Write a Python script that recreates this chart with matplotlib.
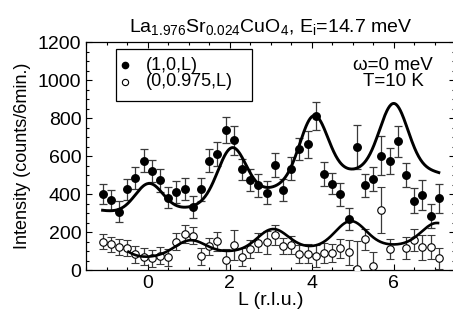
import numpy as np
import matplotlib
matplotlib.use("Agg")
import matplotlib.pyplot as plt
from matplotlib.patches import Rectangle

plt.rcParams['font.family'] = ['Liberation Sans', 'DejaVu Sans']
plt.rcParams['mathtext.fontset'] = 'custom'
plt.rcParams['mathtext.rm'] = 'Liberation Sans'
plt.rcParams['mathtext.it'] = 'Liberation Sans:italic'

# ---- data: (1,0,L) filled circles ----
L_filled = [-1.1, -0.9, -0.7, -0.5, -0.3, -0.1, 0.1, 0.3, 0.5, 0.7, 0.9, 1.1, 1.3, 1.5,
            1.7, 1.9, 2.1, 2.3, 2.5, 2.7, 2.9, 3.1, 3.3, 3.5, 3.7, 3.9, 4.1, 4.3, 4.5,
            4.7, 4.9, 5.1, 5.3, 5.5, 5.7, 5.9, 6.1, 6.3, 6.5, 6.7, 6.9, 7.1]
I_filled = [400, 368, 307, 425, 484, 575, 521, 472, 381, 412, 426, 333, 425, 575,
            612, 737, 682, 530, 474, 447, 407, 551, 421, 533, 638, 661, 810, 507, 454,
            398, 270, 647, 447, 481, 603, 575, 677, 500, 365, 396, 286, 377]
E_filled = [52, 54, 56, 56, 56, 60, 60, 60, 56, 58, 58, 58, 60, 61,
            63, 67, 75, 57, 57, 60, 61, 63, 57, 61, 57, 72, 74, 62, 56,
            60, 58, 114, 60, 64, 103, 70, 82, 61, 65, 80, 63, 74]

# ---- data: (0,0.975,L) open circles ----
L_open = [-1.1, -0.9, -0.7, -0.5, -0.3, -0.1, 0.1, 0.3, 0.5, 0.7, 0.9, 1.1, 1.3, 1.5,
          1.7, 1.9, 2.1, 2.3, 2.5, 2.7, 2.9, 3.1, 3.3, 3.5, 3.7, 3.9, 4.1, 4.3, 4.5,
          4.7, 4.9, 5.1, 5.3, 5.5, 5.7, 5.9, 6.3, 6.5, 6.7, 6.9, 7.1]
I_open = [149, 135, 123, 114, 82, 70, 61, 75, 67, 149, 189, 182, 72, 125,
          151, 54, 132, 67, 111, 144, 146, 184, 126, 132, 86, 86, 74, 88, 91,
          114, 93, 5, 161, 21, 316, 111, 114, 156, 119, 123, 61]
E_open = [40, 40, 42, 42, 44, 44, 44, 44, 44, 44, 46, 46, 46, 46,
          48, 58, 80, 48, 48, 50, 60, 53, 42, 50, 48, 50, 56, 52, 48,
          52, 65, 146, 53, 72, 123, 53, 58, 58, 65, 63, 53]

# ---- fit curves: background minima + peak maxima ----
upper_bg_L = [-1.0, 1.0, 3.0, 5.0, 7.1]
upper_bg_I = [312, 325, 432, 518, 512]
upper_peak_L = [0.03, 2.05, 4.05, 6.0]
upper_peak_I = [456, 644, 813, 877]
upper_sigma = 0.34
upper_range = (-1.1, 7.1)

lower_bg_L = [0.05, 2.0, 4.0, 6.0]
lower_bg_I = [68, 95, 120, 130]
lower_peak_L = [-1.0, 1.03, 3.05, 4.95, 7.05]
lower_peak_I = [155, 157, 216, 258, 248]
lower_sigma = 0.37
lower_range = (-0.47, 7.08)

x_ticks = [0, 2, 4, 6]
y_ticks = [0, 200, 400, 600, 800, 1000, 1200]
legend_labels = ['(1,0,L)', '(0,0.975,L)']
info_lines = ['ω=0 meV', 'T=10 K']


def fit_curve(bg_L, bg_I, deg, pk_L, pk_I, sigma, rng):
    coef = np.polyfit(bg_L, bg_I, deg)
    x = np.linspace(rng[0], rng[1], 500)
    y = np.polyval(coef, x)
    for c, h in zip(pk_L, pk_I):
        amp = h - np.polyval(coef, c)
        y = y + amp * np.exp(-(x - c) ** 2 / (2 * sigma ** 2))
    return x, y


fig = plt.figure(figsize=(4.53, 3.2), dpi=100)
ax = fig.add_axes([0.1903, 0.156, 0.8146, 0.7125])

ecol = '#3a3a3a'
ax.errorbar(L_filled, I_filled, yerr=E_filled, fmt='o', color='black', ms=5.4,
            ecolor=ecol, elinewidth=0.9, capsize=3.2, capthick=0.9, zorder=3)
ax.errorbar(L_open, I_open, yerr=E_open, fmt='o', mfc='white', mec='black', mew=0.8,
            ms=5.4, ecolor=ecol, elinewidth=0.9, capsize=3.2, capthick=0.9, zorder=3)

xu, yu = fit_curve(upper_bg_L, upper_bg_I, 3, upper_peak_L, upper_peak_I,
                   upper_sigma, upper_range)
xl, yl = fit_curve(lower_bg_L, lower_bg_I, 2, lower_peak_L, lower_peak_I,
                   lower_sigma, lower_range)
ax.plot(xu, yu, color='black', lw=2.1, zorder=4)
ax.plot(xl, yl, color='black', lw=1.9, zorder=4)

ax.set_xlim(-1.5, 7.5)
ax.set_ylim(0, 1200)
ax.set_xticks(x_ticks)
ax.set_yticks(y_ticks)
ax.set_xticks(np.arange(-1.5, 7.51, 0.5), minor=True)
ax.set_yticks(np.arange(0, 1201, 50), minor=True)
ax.tick_params(which='both', direction='in', top=True, right=True, labelsize=14,
               width=0.8)
ax.tick_params(which='major', length=4.5, pad=3.5)
ax.tick_params(which='minor', length=2.5)
for s in ax.spines.values():
    s.set_linewidth(0.9)

ax.set_xlabel('L (r.l.u.)', fontsize=14, labelpad=0)
ax.set_ylabel('Intensity (counts/6min.)', fontsize=13, labelpad=5)
ax.set_title(r'La$_{1.976}$Sr$_{0.024}$CuO$_4$, E$_{\rm i}$=14.7 meV',
             fontsize=14, pad=7)

# legend box drawn by hand
ax.add_patch(Rectangle((0.080, 0.741), 0.368, 0.228, transform=ax.transAxes,
                       fill=False, edgecolor='black', lw=0.9, zorder=5))
ax.plot([0.104], [0.899], 'o', color='black', ms=4.5, transform=ax.transAxes,
        clip_on=False, zorder=6)
ax.plot([0.104], [0.827], 'o', mfc='white', mec='black', mew=0.8, ms=4.5,
        transform=ax.transAxes, clip_on=False, zorder=6)
ax.text(0.163, 0.863, '\n'.join(legend_labels), transform=ax.transAxes,
        fontsize=13, va='center', ha='left', linespacing=0.95)

ax.text(0.832, 0.863, '\n'.join(info_lines), transform=ax.transAxes, fontsize=13.5,
        va='center', ha='center', linespacing=0.95)

fig.savefig('out.png', dpi=100)
